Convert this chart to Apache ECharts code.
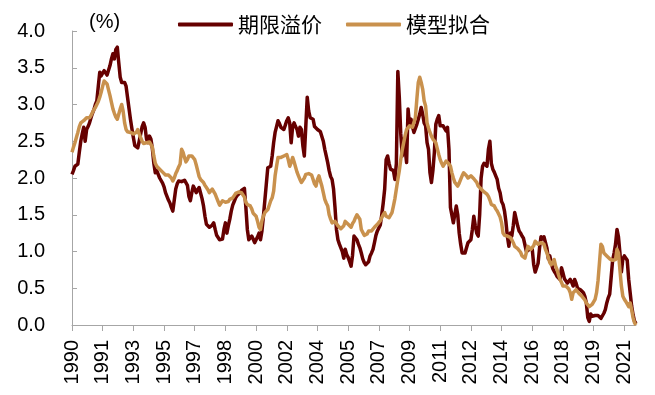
<!DOCTYPE html>
<html>
<head>
<meta charset="utf-8">
<script src="https://cdn.jsdelivr.net/npm/echarts@6/dist/echarts.min.js"></script>
<style>
html,body{margin:0;padding:0;background:#fff;}
#chart{width:655px;height:395px;}
</style>
</head>
<body>
<div id="chart"></div>
<script>
// Monthly data, Jan 1990 .. Mar 2022
var startYear = 1990;
var seriesNames = ['期限溢价', '模型拟合'];
var yTicks = [0, 0.5, 1.0, 1.5, 2.0, 2.5, 3.0, 3.5, 4.0];

var termPremium = [
2.05,2.10,2.16,2.15,2.19,2.35,2.50,2.60,2.69,2.50,2.66,2.70, // 1990
2.75,2.82,2.88,2.93,3.00,3.05,3.25,3.44,3.39,3.43,3.46,3.44, // 1991
3.40,3.41,3.53,3.62,3.69,3.62,3.75,3.78,3.57,3.37,3.30,3.30, // 1992
3.30,3.25,3.10,2.95,2.80,2.67,2.55,2.44,2.42,2.41,2.50,2.60, // 1993
2.70,2.75,2.69,2.53,2.48,2.57,2.53,2.40,2.20,2.07,2.10,2.10, // 1994
2.00,1.98,1.93,1.88,1.80,1.75,1.70,1.66,1.60,1.55,1.70,1.85, // 1995
1.92,1.96,1.98,1.95,1.94,1.97,1.99,1.90,1.75,1.69,1.80,1.89, // 1996
1.85,1.80,1.84,1.87,1.85,1.72,1.62,1.48,1.37,1.35,1.33,1.32, // 1997
1.36,1.39,1.30,1.22,1.19,1.16,1.15,1.17,1.30,1.39,1.25,1.35, // 1998
1.44,1.55,1.63,1.68,1.73,1.76,1.78,1.80,1.83,1.85,1.86,1.60, // 1999
1.30,1.16,1.18,1.21,1.17,1.12,1.10,1.20,1.25,1.16,1.28,1.48, // 2000
1.70,1.92,2.14,2.15,2.16,2.30,2.48,2.62,2.70,2.78,2.74,2.69, // 2001
2.68,2.66,2.72,2.78,2.82,2.75,2.48,2.70,2.75,2.70,2.66,2.57, // 2002
2.69,2.66,2.44,2.30,2.70,3.10,2.91,2.82,2.81,2.80,2.70,2.68, // 2003
2.66,2.65,2.63,2.62,2.50,2.39,2.30,2.21,2.10,2.02,1.98,1.85, // 2004
1.60,1.30,1.16,1.10,1.05,1.00,0.91,1.03,0.96,0.92,0.86,0.80, // 2005
0.95,1.21,1.20,1.16,1.10,1.05,0.98,0.90,0.85,0.82,0.80,0.86, // 2006
0.94,0.98,1.03,1.12,1.22,1.28,1.32,1.36,1.50,1.66,1.85,2.25, // 2007
2.30,2.20,2.12,2.11,2.10,1.98,2.20,3.45,3.10,2.60,2.30,2.53, // 2008
2.39,2.21,2.94,2.72,2.80,2.70,2.62,2.62,2.73,2.80,2.87,2.96, // 2009
2.87,2.75,2.71,2.48,2.39,2.07,1.94,2.10,2.35,2.73,2.80,2.85, // 2010
2.71,2.72,2.71,2.70,2.64,2.69,2.39,1.60,1.62,1.39,1.37,1.62, // 2011
1.50,1.25,1.10,0.98,0.97,0.98,1.05,1.12,1.14,1.16,1.30,1.48, // 2012
1.35,1.25,1.21,1.50,2.00,2.16,2.20,2.21,2.16,2.39,2.50,2.20, // 2013
2.12,2.08,2.03,1.98,1.86,1.80,1.68,1.64,1.55,1.40,1.20,1.07, // 2014
1.25,1.21,1.35,1.53,1.44,1.35,1.28,1.25,1.21,1.18,1.16,1.00, // 2015
1.02,1.03,1.02,1.03,0.82,0.72,0.70,0.84,1.05,1.20,1.17,1.20, // 2016
1.20,1.05,0.90,0.94,0.85,0.77,0.73,0.70,0.66,0.64,0.62,0.78, // 2017
0.71,0.63,0.60,0.57,0.59,0.62,0.58,0.53,0.62,0.57,0.50,0.48, // 2018
0.48,0.46,0.44,0.39,0.30,0.10,0.05,0.15,0.12,0.12,0.13,0.14, // 2019
0.13,0.12,0.09,0.07,0.16,0.21,0.30,0.37,0.42,0.65,0.88,0.98, // 2020
1.10,1.30,1.20,0.98,0.72,0.90,0.94,0.93,0.88,0.62,0.44,0.26, // 2021
0.14,0.05,0.02                                                // 2022
];

var modelFit = [
2.35,2.42,2.48,2.55,2.62,2.70,2.75,2.77,2.78,2.80,2.82,2.82, // 1990
2.82,2.85,2.89,2.93,2.96,2.98,3.04,3.10,3.17,3.25,3.32,3.30, // 1991
3.28,3.20,3.12,3.03,2.94,2.88,2.83,2.80,2.82,2.94,3.00,2.91, // 1992
2.75,2.66,2.63,2.62,2.62,2.61,2.60,2.61,2.62,2.66,2.60,2.55, // 1993
2.50,2.47,2.46,2.48,2.50,2.49,2.48,2.42,2.30,2.20,2.16,2.14, // 1994
2.12,2.10,2.08,2.07,2.04,2.03,2.04,2.05,2.00,1.96,2.00,2.06, // 1995
2.10,2.15,2.19,2.39,2.35,2.28,2.22,2.25,2.30,2.32,2.30,2.28, // 1996
2.25,2.18,2.10,2.02,1.98,1.96,1.94,1.90,1.87,1.84,1.80,1.82, // 1997
1.85,1.84,1.78,1.73,1.68,1.63,1.65,1.69,1.68,1.67,1.66,1.68, // 1998
1.71,1.72,1.73,1.76,1.79,1.80,1.81,1.82,1.80,1.78,1.74,1.67, // 1999
1.64,1.63,1.62,1.58,1.52,1.50,1.48,1.41,1.33,1.30,1.42,1.48, // 2000
1.53,1.55,1.57,1.63,1.69,1.73,1.82,2.03,2.16,2.28,2.28,2.28, // 2001
2.28,2.30,2.32,2.32,2.25,2.16,2.21,2.28,2.22,2.15,2.08,2.03, // 2002
1.98,1.94,1.96,2.00,2.05,2.07,2.06,2.05,2.04,2.03,1.92,1.89, // 2003
1.98,2.03,1.96,1.89,1.80,1.71,1.66,1.62,1.50,1.44,1.39,1.40, // 2004
1.41,1.39,1.35,1.33,1.31,1.30,1.35,1.41,1.39,1.37,1.35,1.33, // 2005
1.38,1.41,1.46,1.50,1.47,1.44,1.30,1.26,1.22,1.21,1.24,1.28, // 2006
1.28,1.28,1.30,1.33,1.35,1.37,1.39,1.42,1.46,1.50,1.53,1.48, // 2007
1.47,1.46,1.46,1.53,1.62,1.72,1.85,1.98,2.10,2.25,2.38,2.48, // 2008
2.58,2.66,2.68,2.71,2.70,2.69,2.69,2.82,3.07,3.30,3.37,3.30, // 2009
3.21,3.05,2.98,2.75,2.68,2.62,2.57,2.53,2.51,2.48,2.40,2.32, // 2010
2.25,2.20,2.16,2.18,2.23,2.21,2.19,2.16,2.07,2.00,1.94,1.92, // 2011
1.89,1.93,1.98,2.03,2.07,2.05,2.03,2.00,2.02,2.03,2.02,1.99, // 2012
1.98,1.94,1.89,1.87,1.85,1.83,1.81,1.80,1.78,1.75,1.70,1.64, // 2013
1.63,1.62,1.58,1.55,1.53,1.47,1.39,1.25,1.22,1.21,1.21,1.21, // 2014
1.19,1.16,1.12,1.07,1.05,1.04,1.03,0.99,0.94,0.93,0.91,0.99, // 2015
1.07,1.05,1.03,1.03,1.08,1.14,1.12,1.10,1.11,1.12,1.14,1.10, // 2016
1.03,0.98,0.92,0.85,0.82,0.80,0.89,0.80,0.75,0.68,0.62,0.58, // 2017
0.53,0.53,0.53,0.53,0.49,0.44,0.35,0.44,0.46,0.48,0.46,0.43, // 2018
0.41,0.39,0.37,0.34,0.30,0.28,0.25,0.26,0.28,0.30,0.35,0.44, // 2019
0.60,0.85,1.10,1.07,0.98,0.96,0.94,0.92,0.90,0.89,0.88,0.87, // 2020
0.89,1.03,0.98,0.75,0.53,0.39,0.35,0.32,0.30,0.25,0.30,0.21, // 2021
0.10,0.03,0.00                                                // 2022
];

// month categories
var months = [];
for (var i = 0; i < termPremium.length; i++) {
  var y = startYear + Math.floor(i / 12);
  var m = (i % 12) + 1;
  months.push(y + '-' + (m < 10 ? '0' + m : m));
}

var FONT = '"Liberation Sans", Arial, sans-serif';
var CJK = '"Noto Sans CJK SC", "Liberation Sans", sans-serif';
var axisGray = '#a6a6a6';

var chart = echarts.init(document.getElementById('chart'), null, {renderer: 'canvas'});
chart.setOption({
  animation: false,
  backgroundColor: '#ffffff',
  grid: {left: 72, right: 19, top: 31, bottom: 70, containLabel: false},
  legend: {
    left: 173, top: 9,
    itemWidth: 55, itemHeight: 4, itemGap: 24,
    icon: 'roundRect',
    textStyle: {fontFamily: CJK, fontSize: 21, color: '#000', padding: [0, 0, 0, 0]},
    data: seriesNames
  },
  graphic: [{
    type: 'text', left: 89, top: 12,
    style: {text: '(%)', font: '20px "Liberation Sans", Arial, sans-serif', fill: '#000'}
  }],
  xAxis: {
    type: 'category',
    data: months,
    boundaryGap: false,
    axisLine: {lineStyle: {color: axisGray, width: 1}},
    axisTick: {show: true, interval: 20, length: 6, inside: false, lineStyle: {color: axisGray}},
    axisLabel: {
      interval: 20, rotate: 90, margin: 15,
      fontFamily: FONT, fontSize: 20, color: '#000',
      formatter: function (v) { return v.slice(0, 4); }
    },
    splitLine: {show: false}
  },
  yAxis: {
    type: 'value',
    min: yTicks[0], max: yTicks[yTicks.length - 1], interval: 0.5,
    axisLine: {show: true, lineStyle: {color: axisGray, width: 1}},
    axisTick: {show: true, inside: true, length: 5, lineStyle: {color: axisGray}},
    axisLabel: {
      margin: 27, fontFamily: FONT, fontSize: 20, color: '#000',
      formatter: function (v) { return v.toFixed(1); }
    },
    splitLine: {show: false}
  },
  series: [
    {
      name: seriesNames[0], type: 'line', data: termPremium,
      showSymbol: false, symbol: 'none',
      lineStyle: {color: '#660000', width: 3.5, join: 'round'},
      itemStyle: {color: '#660000'}
    },
    {
      name: seriesNames[1], type: 'line', data: modelFit,
      showSymbol: false, symbol: 'none',
      lineStyle: {color: '#C9914D', width: 3.5, join: 'round'},
      itemStyle: {color: '#C9914D'}
    }
  ]
});
</script>
</body>
</html>
